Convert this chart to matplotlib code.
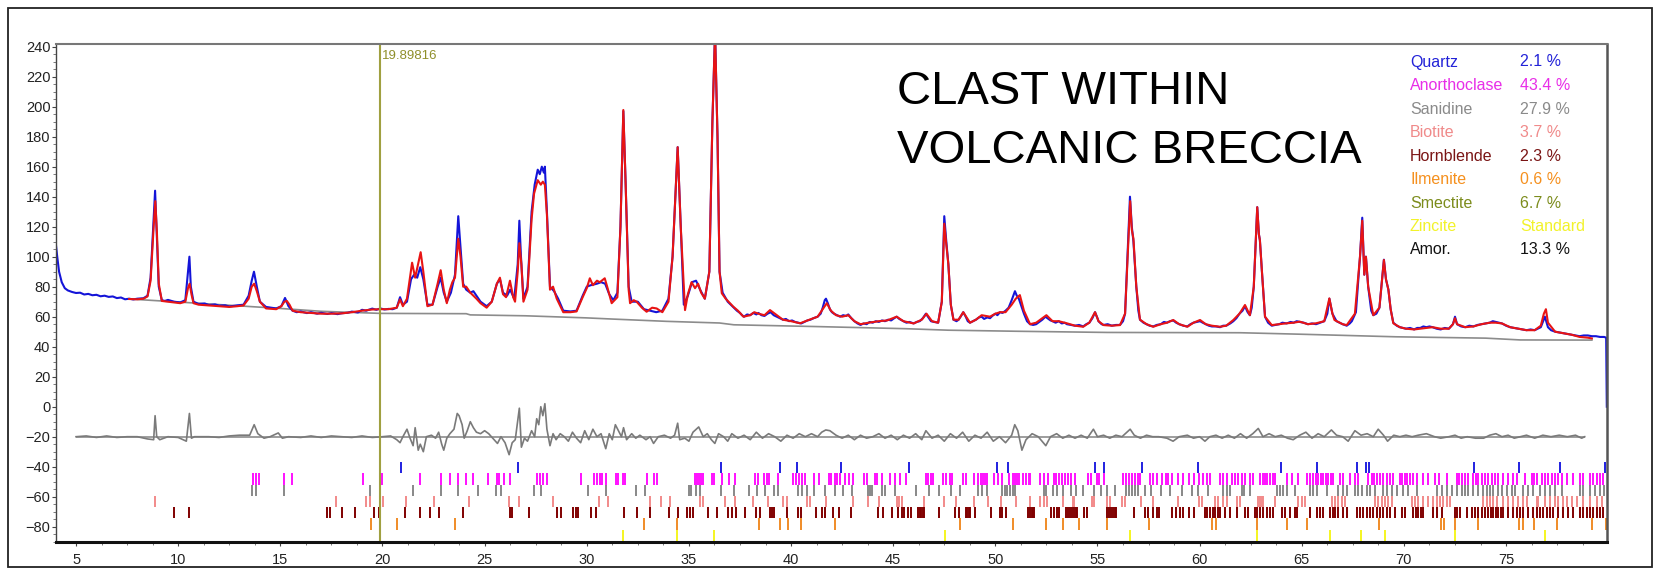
import matplotlib
matplotlib.use("Agg")
import matplotlib.pyplot as plt
from matplotlib.ticker import MultipleLocator
from matplotlib.patches import Rectangle

plt.rcParams['font.family'] = ['Liberation Sans', 'DejaVu Sans']

# observed pattern (2theta, counts)
obs_pts = [(4.0,110),(4.08,100),(4.17,90),(4.3,83),(4.45,79),(4.6,77.5),(4.8,76.5),(5.0,75.8),(5.2,76),(5.4,74.8),(5.6,75.2),(5.8,74.3),(6.0,74.6),(6.2,73.6),(6.4,74),(6.6,73.2),(6.8,73.5),(7.0,72.4),(7.2,72.8),(7.4,71.6),(7.6,72),(7.8,71.5),(8.0,72),(8.3,72.3),(8.5,74),(8.65,86),(8.8,126),(8.87,144),(8.95,115),(9.05,80),(9.2,71),(9.35,70.5),(9.5,71.2),(9.8,70),(10.1,69.5),(10.35,71),(10.48,90),(10.55,100),(10.62,80),(10.75,70),(11.0,68.5),(11.3,68.8),(11.5,67.8),(11.8,68.2),(12.0,67.4),(12.3,67.6),(12.5,66.8),(12.9,67.6),(13.2,68),(13.45,74),(13.6,84),(13.71,90),(13.85,80),(14.0,70),(14.3,66.5),(14.8,65.5),(15.05,67),(15.23,72.5),(15.4,67),(15.6,64),(15.8,63),(16.0,63.5),(16.3,62.4),(16.5,63),(16.8,62),(17.0,62.6),(17.3,61.8),(17.5,62.4),(17.8,61.7),(18.0,62.3),(18.3,62.6),(18.5,63.4),(18.8,62.8),(19.0,64.6),(19.2,64),(19.5,65.4),(19.7,64.6),(19.9,65.5),(20.1,64.8),(20.3,65.2),(20.5,65),(20.7,66),(20.86,73),(21.0,68),(21.2,70),(21.4,85),(21.55,88),(21.7,86),(21.85,93),(22.0,85),(22.2,68),(22.45,68),(22.7,80),(22.85,86),(23.0,76),(23.15,70),(23.35,76),(23.55,88),(23.71,127),(23.8,110),(23.95,82),(24.1,78),(24.3,76),(24.45,77),(24.6,74),(24.8,70),(25.1,67),(25.35,70),(25.6,82),(25.75,85),(25.9,76),(26.1,74),(26.25,78),(26.45,72),(26.62,95),(26.7,124),(26.78,100),(26.9,72),(27.1,80),(27.3,130),(27.45,148),(27.6,158),(27.7,155),(27.8,160),(27.9,156),(27.95,160),(28.05,130),(28.2,80),(28.4,77),(28.6,72),(28.85,64),(29.2,63.5),(29.5,64),(29.8,74),(30.0,80),(30.2,81),(30.5,82),(30.7,83),(30.9,82),(31.1,75),(31.3,71),(31.5,76),(31.65,120),(31.79,197),(31.9,150),(32.05,80),(32.2,70),(32.5,70),(32.8,65),(33.1,64),(33.4,63),(33.7,64),(34.0,72),(34.2,100),(34.45,173),(34.6,120),(34.75,68),(34.95,74),(35.15,83),(35.35,84),(35.55,78),(35.78,72),(36.0,90),(36.15,190),(36.28,250),(36.4,180),(36.5,90),(36.65,76),(36.9,70),
           (37.2,66),(37.35,64),(37.5,62.5),(37.6,61),(37.7,60),(37.85,61.5),(38.0,61),(38.15,62.5),(38.3,61.5),(38.4,62.5),(38.55,61),(38.7,60.5),(38.85,62),(39.0,63),(39.15,61),(39.3,60),(39.45,59),(39.6,58),(39.75,58.5),(39.9,57),(40.05,57.5),(40.2,56.5),(40.35,56),(40.5,55.5),(40.65,56.5),(40.8,57.5),(40.95,58),(41.1,59),(41.3,60),(41.45,62),(41.55,66),(41.65,71),(41.71,72),(41.8,69),(41.9,65),(42.0,63),(42.1,62),(42.25,61),(42.4,60),(42.55,61),(42.7,60.5),(42.8,61.5),(42.95,59),(43.1,57),(43.25,55.5),(43.4,54.5),(43.55,55.5),(43.7,55),(43.85,56.5),(44.0,56),(44.15,57),(44.3,56.5),(44.45,57.5),(44.6,57),(44.75,58),(44.9,57.5),(45.05,59),(45.17,60),(45.3,58.5),(45.5,57),(45.65,56),(45.8,56.5),(46.0,55.5),(46.15,56.5),(46.3,57),(46.45,59),(46.6,62),(46.7,60),(46.85,57),(47.0,56.5),(47.2,56),
           (47.38,70),(47.5,127),(47.6,110),(47.7,95),(47.82,68),(47.95,58),(48.1,57),(48.2,58),(48.3,60),(48.43,63),(48.55,60),(48.65,57),(48.76,56),(48.9,57),(49.05,58),(49.2,59.5),(49.33,60),(49.45,58.5),(49.6,59.5),(49.74,59),(49.85,60.5),(50.0,62),(50.1,61),(50.23,63),(50.35,62.5),(50.5,64),(50.65,66),(50.8,71),(50.96,77),(51.05,74),(51.15,72),(51.3,66),(51.4,62),(51.55,57),(51.7,55),(51.85,54.5),(52.0,55),(52.15,56.5),(52.3,58),(52.45,60),(52.55,59),(52.7,57.5),(52.8,57),(52.95,56),(53.1,57),(53.25,55.5),(53.4,56),(53.5,55),(53.7,54.5),(53.9,54),(54.1,54.5),(54.3,53.5),(54.45,55),(54.6,56),(54.75,59),(54.88,63),(55.0,59),(55.05,57),(55.2,55),(55.3,54.5),(55.5,55),(55.7,54),(55.9,54.5),(56.1,54.5),(56.25,57),(56.35,62),(56.5,110),(56.59,140),(56.68,120),(56.76,110),(56.9,80),(57.0,64),(57.08,58),(57.25,56),(57.4,55),(57.55,54),(57.73,53.5),(57.9,54.5),(58.1,55),(58.25,56.5),(58.4,56),(58.55,57),(58.71,57.5),(58.85,56),(59.0,55),(59.2,54),(59.4,53.5),(59.55,55),(59.7,56),(59.85,56.5),(60.02,57),(60.15,56),(60.3,55),(60.45,54),(60.6,53.5),(60.8,53.5),(61.0,53),(61.15,54),(61.3,54),(61.5,55.5),(61.65,57),(61.8,59),(61.95,62),(62.1,64),(62.22,67),(62.35,63),(62.46,61),(62.55,66),(62.65,80),(62.82,133),(62.9,115),(62.95,111),(63.05,90),(63.2,60),(63.35,56),(63.53,54),(63.7,54.5),(63.9,55),(64.05,56),(64.26,55.5),(64.45,56.5),(64.6,56),(64.75,57),(64.9,56.5),(65.1,56),(65.3,55),(65.5,55.5),(65.7,55),(65.9,56),(66.1,57),(66.25,62),(66.35,72),(66.5,62),(66.7,57),(66.85,56),(67.0,55),(67.2,54),(67.35,55.5),(67.45,57),(67.65,63),(67.85,100),(67.96,126),(68.06,88),(68.14,100),(68.25,80),(68.4,64),(68.5,61),(68.65,62),(68.8,66),(68.93,85),(69.02,98),(69.12,85),(69.24,78),(69.35,65),(69.48,56),(69.65,54),(69.8,53),(69.95,52.5),(70.1,52),(70.3,52.5),(70.5,51.5),(70.65,52.5),(70.8,52.5),(70.95,53.5),(71.1,53),(71.25,53.5),(71.4,53),(71.6,52),(71.8,51.5),(72.0,52.5),(72.2,52),(72.4,55),(72.5,60),(72.6,55),(72.8,53.5),(73.0,53),(73.2,54),(73.4,53.5),(73.6,54.5),(73.8,55),(74.0,55.5),(74.2,56),(74.35,57),(74.5,56.5),(74.65,56),(74.8,55.5),(75.0,54),(75.2,53),(75.4,52.5),(75.6,52),(75.8,51.5),(76.0,51),(76.2,51.5),(76.4,51),(76.55,52),(76.7,53),(76.9,60),(77.05,53),(77.2,51),(77.4,50),(77.6,49.5),(77.8,49),(78.0,48.5),(78.2,48),(78.4,47.5),(78.6,47),(78.8,47.5),(79.0,47.5),(79.2,47),(79.4,47),(79.6,46.5),(79.8,46.5),(79.9,46),(79.93,0)]

# calculated pattern
calc_pts = [(7.6,71.8),(8.0,71.6),(8.3,72),(8.5,73.5),(8.65,84),(8.8,120),(8.88,137),(8.96,116),(9.05,82),(9.2,70.5),(9.5,70),(9.8,69.5),(10.1,69),(10.35,70),(10.48,79),(10.56,82),(10.65,75),(10.75,69),(11.0,68),(11.5,67.5),(12.0,67),(12.5,66.5),(12.9,67),(13.2,67.5),(13.45,72),(13.6,80),(13.72,82),(13.85,77),(14.0,70),(14.3,65.5),(14.8,65),(15.05,67),(15.2,70),(15.32,70.5),(15.45,68),(15.6,64),(16.0,63),(16.5,62.5),(17.0,62),(17.5,62),(18.0,62.2),(18.5,63),(19.0,64),(19.5,64.8),(19.9,65),(20.3,65),(20.7,66),(20.86,71.5),(21.0,67),(21.2,72),(21.45,96),(21.6,86),(21.87,103),(22.0,90),(22.2,67),(22.45,68),(22.7,82),(22.85,91),(23.0,78),(23.15,69),(23.3,78),(23.42,83),(23.55,86),(23.71,112),(23.82,100),(23.95,80),(24.1,80),(24.3,76),(24.6,72),(24.8,69),(25.1,66),(25.35,70),(25.6,82),(25.75,86),(25.9,75),(26.05,73),(26.24,84),(26.4,73),(26.49,70),(26.62,90),(26.7,109),(26.8,95),(26.9,70),(27.1,78),(27.3,125),(27.42,142),(27.6,151),(27.75,148),(27.85,150),(27.95,148),(28.05,128),(28.2,78),(28.35,80),(28.53,72),(28.85,63),(29.2,63),(29.5,63.5),(29.8,73),(30.0,79),(30.15,85.6),(30.3,81),(30.5,84),(30.64,83),(30.88,85.6),(31.0,80),(31.22,69),(31.5,73),(31.65,120),(31.79,197.8),(31.9,150),(32.05,78),(32.12,69),(32.3,71),(32.44,70),(32.7,66),(32.93,63.3),(33.2,66),(33.42,65.5),(33.7,63),(34.0,70),(34.2,100),(34.45,173),(34.6,120),(34.81,64.4),(34.95,75),(35.13,83),(35.3,79),(35.45,82),(35.6,76),(35.78,72),(36.0,90),(36.15,190),(36.28,250),(36.4,180),(36.5,90),(36.61,75.6),(36.8,72),(37.17,66.7),(37.4,64),(37.67,60),(38.0,61),(38.2,63),(38.4,62),(38.7,61),(38.97,64.4),(39.3,61),(39.6,58),(40.0,57),(40.44,55.6),(40.9,58),(41.3,60),(41.55,65),(41.75,69),(41.95,64),(42.2,61),(42.5,60),(42.8,61),(43.1,57),(43.4,55),(43.8,56),(44.3,57),(44.7,57.5),(45.17,60),(45.5,57),(46.0,55.5),(46.4,58),(46.63,62),(46.9,57),(47.2,56),(47.38,70),(47.5,122),(47.6,108),(47.7,95),(47.82,68),(47.95,58),(48.2,58),(48.43,63),(48.76,56),(49.05,58),(49.33,61),(49.74,60),(50.0,62),(50.23,63),(50.5,63),(50.8,68),(51.0,72),(51.2,74.4),(51.4,64),(51.7,55),(52.0,56),(52.3,59),(52.5,61),(52.8,57),(53.1,57),(53.5,55.6),(53.9,54),(54.3,53.3),(54.6,56),(54.88,63),(55.05,57),(55.3,54.4),(55.7,54),(56.1,54.4),(56.35,62),(56.5,108),(56.6,137),(56.68,118),(56.76,112),(56.9,80),(57.08,58),(57.4,55),(57.73,53.3),(58.1,55),(58.4,56),(58.71,57.8),(59.0,55),(59.4,53.3),(59.7,56),(60.02,57.8),(60.3,55),(60.6,54),(61.0,53.3),(61.3,54),(61.65,57.8),(61.95,62),(62.22,67.8),(62.46,61),(62.65,80),(62.82,133),(62.9,115),(62.95,111),(63.05,90),(63.2,60),(63.53,54.4),(63.9,55),(64.26,55.6),(64.6,56),(64.9,56.7),(65.3,55),(65.7,55.6),(66.1,57),(66.35,72.2),(66.5,62),(66.6,57.8),(67.0,55),(67.2,54.4),(67.6,62),(67.85,100),(67.96,124),(68.06,88),(68.14,100),(68.25,80),(68.5,61),(68.8,66),(68.93,85),(69.02,97.8),(69.12,85),(69.24,78),(69.35,65),(69.48,55.6),(69.8,53),(70.1,52),(70.5,51.5),(70.8,52),(71.1,52.5),(71.4,53),(71.8,52),(72.2,52),(72.4,55),(72.5,59),(72.6,55),(73.0,53),(73.4,53.5),(73.8,55),(74.2,56),(74.5,56),(74.8,55.5),(75.2,53),(75.6,52),(76.0,51),(76.4,51),(76.7,54),(76.85,62),(76.95,65),(77.05,56),(77.4,50),(77.8,49),(78.2,48),(78.6,46.5),(79.0,46),(79.2,45.5)]

# background
bg_pts = [(7.6,71.8),(10,69.8),(13,67.2),(15,65.5),(17,63.6),(19.9,62.2),(24.1,62),(24.3,61.2),(27,60.6),(30,59.2),(31.3,58.4),(33.9,56.9),(36.5,55.8),(37.2,54.6),(41.3,53.4),(45.6,52),(47.7,51),(51,50.3),(55.5,49.5),(62,49.3),(64.7,48.4),(66.9,47.6),(69.6,46.6),(74,45.7),(75.7,44.5),(79.2,44.4)]

# difference curve (offset -20)
diff_pts = [(5.0,-20),(5.5,-19.5),(6,-20.5),(6.5,-19.5),(7,-20.5),(7.5,-20),(8,-20),(8.5,-21.5),(8.8,-22),(8.87,-6),(8.95,-20),(9.1,-22),(9.5,-20),(10.0,-20.5),(10.4,-23),(10.55,-4.5),(10.65,-21),(10.8,-20),(11.5,-20),(12,-20.5),(12.5,-19.5),(13,-19),(13.5,-19),(13.72,-12),(13.9,-18),(14.2,-21),(14.5,-20),(14.9,-17.5),(15.1,-21),(15.4,-20),(16,-20.5),(16.5,-19.5),(17,-20.5),(17.5,-19.5),(18,-20),(18.5,-20.5),(19,-19.5),(19.5,-20.5),(20,-20),(20.4,-19.5),(20.7,-22),(20.86,-24),(21.0,-20),(21.2,-15),(21.35,-21),(21.5,-26),(21.6,-14),(21.75,-29),(21.85,-25),(22.0,-30),(22.15,-20),(22.4,-19),(22.6,-21),(22.75,-17),(22.9,-25),(23.0,-29),(23.15,-21),(23.3,-18),(23.5,-15),(23.66,-4.5),(23.75,-6),(23.9,-12),(24.0,-21),(24.15,-16),(24.3,-10),(24.45,-14),(24.6,-17),(24.8,-18),(25.0,-16),(25.2,-18),(25.4,-21),(25.63,-24.5),(25.8,-20),(26.0,-24),(26.2,-32),(26.35,-24),(26.5,-22),(26.7,-1),(26.8,-27),(26.95,-21),(27.1,-23),(27.3,-16),(27.45,-20),(27.55,-8),(27.65,-12),(27.75,0),(27.85,-6),(27.95,2),(28.05,-15),(28.2,-26),(28.35,-18),(28.5,-22),(28.7,-18),(28.9,-20),(29.1,-23),(29.3,-17),(29.5,-21),(29.7,-24),(29.9,-16),(30.1,-22),(30.3,-15),(30.5,-20),(30.7,-18),(30.93,-28),(31.1,-18),(31.25,-22),(31.4,-12),(31.55,-16),(31.7,-20),(31.8,-14),(31.95,-22),(32.2,-18),(32.4,-21),(32.6,-19),(32.9,-22),(33.1,-20),(33.27,-24.5),(33.5,-20),(33.8,-19),(34.1,-21),(34.3,-19),(34.45,-11),(34.55,-22),(34.8,-21),(35.0,-23),(35.2,-17),(35.48,-13.5),(35.7,-20),(35.9,-18),(36.1,-22),(36.27,-24.5),(36.45,-18),(36.7,-20),(36.9,-23),(37.1,-18),(37.4,-21),(37.7,-19),(38.0,-22),(38.3,-17),(38.6,-21),(38.9,-18),(39.2,-20),(39.5,-23),(39.8,-19),(40.1,-21),(40.4,-18),(40.7,-20),(41.0,-18),(41.3,-20),(41.5,-17),(41.7,-15.5),(41.9,-16),(42.2,-19),(42.5,-21),(42.8,-19),(43.1,-22),(43.4,-19),(43.7,-21),(44.0,-20),(44.3,-18),(44.6,-21),(44.9,-19),(45.2,-22),(45.5,-19),(45.8,-21),(46.1,-18),(46.4,-22),(46.6,-16),(46.9,-21),(47.2,-19),(47.5,-23),(47.8,-18),(48.1,-21),(48.4,-17),(48.7,-23),(49.0,-19),(49.3,-21),(49.6,-17),(49.9,-23),(50.2,-20),(50.5,-24),(50.8,-19),(50.95,-12),(51.1,-16),(51.3,-29),(51.5,-22),(51.8,-18),(52.1,-20),(52.47,-26),(52.7,-20),(53.0,-18),(53.3,-21),(53.6,-19),(53.9,-21),(54.2,-19),(54.5,-21),(54.8,-15),(55.0,-20),(55.3,-19),(55.6,-21),(55.9,-19),(56.2,-20),(56.6,-15),(56.8,-19),(57.1,-21),(57.4,-19),(57.7,-20),(58.0,-20),(58.4,-21),(58.7,-23),(59.0,-20),(59.4,-19),(59.7,-21),(60.0,-20),(60.26,-23),(60.5,-20),(60.8,-19),(61.1,-21),(61.4,-19),(61.7,-21),(62.0,-18),(62.3,-21),(62.6,-18),(62.87,-14.5),(63.1,-20),(63.4,-18),(63.7,-20),(64.0,-19),(64.3,-21),(64.58,-22),(64.9,-19),(65.2,-17),(65.5,-21),(65.8,-18),(66.1,-20),(66.45,-15.5),(66.7,-19),(67.0,-20),(67.27,-23),(67.6,-16),(67.9,-19),(68.2,-18),(68.5,-20),(68.74,-15),(69.0,-19),(69.2,-23),(69.5,-19),(69.8,-20),(70.1,-19),(70.4,-20),(70.7,-19),(71.1,-18),(71.5,-20),(71.8,-21),(72.2,-20),(72.5,-19),(72.8,-21),(73.1,-20),(73.5,-21),(73.9,-21),(74.2,-19),(74.5,-18),(74.8,-20),(75.1,-19),(75.4,-21),(75.7,-20),(76.0,-19),(76.4,-21),(76.8,-19),(77.2,-20),(77.6,-19),(78.0,-20),(78.4,-19),(78.7,-21),(78.85,-20)]

# reflection positions per phase
quartz_pos = [20.89, 26.63, 36.55, 39.47, 40.28, 42.45, 45.78, 50.1, 50.6, 54.86, 55.32, 57.2, 59.93, 64.0, 65.75, 67.7, 68.12, 68.3, 73.45, 75.65, 77.65, 79.85]
anorth_pos = [13.68, 13.83, 13.94, 15.16, 15.57, 19.06, 19.97, 21.83, 22.86, 23.33, 23.7, 24.08, 24.45, 25.16, 25.59, 25.72, 25.97, 26.23, 27.56, 27.69, 27.84, 28.06, 29.7, 30.37, 30.5, 30.65,
              30.74, 30.93, 31.44, 31.55, 31.77, 31.87, 32.93, 33.27, 33.42, 35.29, 35.39, 35.48, 35.58, 35.67, 36.12, 36.23, 36.6, 36.98, 37.26, 38.24, 38.37, 38.67, 38.8, 38.93, 39.36,
              40.11, 40.24, 40.39, 40.54, 40.67, 41.14, 41.36, 41.85, 41.98, 42.13, 42.26, 42.41, 42.64, 42.82, 43.05, 43.57, 43.72, 44.1, 44.23, 44.47, 44.85, 45.07, 45.35, 45.63,
              46.61, 46.72, 46.85, 46.95, 47.45, 47.6, 47.79, 47.88, 48.41, 48.58, 48.97, 49.16, 49.29, 49.38, 49.47, 49.57, 49.94, 50.13, 50.32, 50.69, 50.84, 50.97, 51.07, 51.16,
              51.35, 51.48, 51.63, 51.72, 52.19, 52.38, 52.56, 52.85, 52.98, 53.13, 53.28, 53.41, 53.54, 53.69, 53.88, 54.53, 54.66, 54.96, 55.09, 55.34, 56.27, 56.4, 56.54, 56.69,
              56.84, 56.97, 57.1, 57.58, 57.72, 57.9, 58.18, 58.33, 58.46, 58.65, 58.93, 59.21, 59.5, 59.72, 59.96, 60.18, 60.34, 60.51, 61.0, 61.16, 61.36, 61.57, 61.73, 61.89,
              62.06, 62.22, 62.46, 62.63, 62.95, 63.08, 63.2, 63.31, 63.44, 63.57, 63.69, 64.26, 64.5, 64.83, 65.24, 65.4, 65.56, 65.7, 65.81, 65.92, 66.05, 66.18, 66.3, 66.41,
              66.54, 66.87, 67.03, 67.36, 67.6, 67.77, 68.26, 68.42, 68.53, 68.66, 68.83, 68.99, 69.15, 69.32, 69.48, 69.81, 69.92, 70.05, 70.17, 70.3, 70.43, 70.62, 70.95, 71.19,
              71.52, 71.73, 72.09, 72.58, 72.71, 72.83, 72.99, 73.15, 73.4, 73.53, 73.64, 73.8, 73.97, 74.13, 74.29, 74.46, 74.62, 74.86, 75.11, 75.35, 75.52, 75.93, 76.25, 76.37,
              76.5, 76.74, 76.9, 77.07, 77.23, 77.39, 77.56, 77.72, 77.96, 78.29, 78.62, 78.75, 79.11, 79.27, 79.43, 79.6, 79.76]
sanid_pos = [13.6, 13.79, 15.2, 19.41, 21.51, 22.86, 23.72, 24.69, 25.54, 25.78, 27.43, 27.75, 30.07, 30.93, 32.43, 32.86, 34.99, 35.1, 35.33, 35.52, 36.55, 37.2, 37.95, 38.33,
             38.74, 39.17, 39.36, 40.35, 40.54, 40.76, 41.1, 41.66, 42.17, 42.54, 42.97, 43.76, 43.85, 43.98, 44.47, 44.6, 45.07, 46.1, 46.76, 47.23, 47.83, 48.26, 49.15, 49.34,
             49.57, 50.32, 50.45, 50.59, 50.72, 50.85, 50.97, 52.38, 52.47, 52.84, 53.03, 53.31, 53.69, 53.97, 54.29, 54.81, 55.19, 55.47, 55.84, 56.4, 56.54, 56.69, 56.84, 56.96,
             57.34, 57.62, 58.09, 58.56, 59.12, 59.64, 59.9, 60.43, 61.16, 61.32, 61.49, 62.06, 62.17, 62.46, 63.77, 63.93, 64.1, 64.26, 64.67, 65.4, 65.56, 65.73, 66.22, 66.79,
             67.03, 67.2, 67.6, 67.77, 67.93, 68.18, 68.34, 68.58, 68.99, 69.15, 69.4, 69.64, 69.97, 70.21, 70.62, 71.6, 71.85, 72.09, 72.34, 72.58, 72.83, 72.99, 73.15, 73.4,
             73.64, 73.89, 74.05, 74.21, 74.38, 74.62, 74.78, 75.03, 75.27, 75.44, 75.84, 76.09, 76.33, 76.66, 76.9, 77.15, 77.39, 77.72, 78.62, 78.78, 79.11, 79.35, 79.6, 79.79]
biotite_pos = [8.87, 17.71, 19.17, 19.41, 20.05, 21.17, 22.54, 24.26, 26.19, 26.7, 28.35, 30.6, 31.02, 33.08, 33.61, 34.06, 35.56, 35.67, 36.79, 37.24, 38.14, 38.89, 39.6, 39.79,
               40.76, 40.91, 41.7, 43.01, 43.76, 44.32, 45.17, 45.3, 45.45, 46.53, 47.51, 48.07, 48.97, 49.66, 50.28, 51.03, 51.72, 52.19, 52.38, 52.53, 53.31, 53.78, 53.87, 54.72,
               54.85, 55.47, 55.6, 56.22, 56.35, 57.15, 57.72, 58.93, 59.96, 60.1, 60.75, 60.91, 61.16, 61.32, 61.81, 61.97, 62.87, 62.95, 63.04, 63.12, 63.69, 64.83, 64.99, 65.16,
               66.46, 66.63, 66.79, 66.95, 67.12, 68.58, 68.75, 68.91, 69.07, 69.24, 69.4, 70.38, 70.54, 70.7, 70.95, 71.19, 71.44, 71.6, 71.76, 71.93, 72.09, 72.25, 73.89, 74.05,
               74.21, 74.38, 74.54, 74.86, 75.11, 75.35, 75.6, 75.84, 76.01, 76.5, 76.58, 76.9, 77.15, 77.39, 77.56, 77.8, 77.96, 78.21, 78.45, 78.78, 79.11, 79.43, 79.68]
hornbl_pos = [9.8, 10.51, 17.3, 17.43, 18.01, 18.64, 19.6, 19.82, 19.9, 21.1, 21.83, 22.31, 22.78, 23.94, 26.23, 26.32, 27.18, 28.53, 28.76, 29.32, 29.47, 29.56, 30.22, 30.44,
              31.81, 32.48, 33.08, 34.02, 34.49, 34.92, 35.05, 35.18, 35.93, 36.36, 36.92, 37.11, 37.3, 37.73, 38.29, 38.48, 38.98, 39.08, 39.17, 39.79, 40.35, 40.48, 41.23, 41.51,
              41.66, 42.07, 42.36, 42.92, 44.28, 44.51, 44.92, 45.22, 45.41, 45.54, 45.73, 45.86, 46.2, 46.29, 46.38, 46.47, 46.53, 47.23, 48.03, 48.22, 48.54, 48.63, 48.72, 48.78,
              49.0, 49.79, 50.22, 50.35, 50.5, 51.59, 51.68, 51.77, 51.86, 51.91, 52.71, 52.85, 53.03, 53.12, 53.46, 53.56, 53.65, 53.74, 53.84, 53.93, 54.0, 54.34, 54.47, 55.47,
              55.56, 55.65, 55.75, 55.84, 55.93, 56.78, 57.34, 57.47, 57.72, 57.9, 58.03, 58.65, 58.84, 59.03, 59.21, 59.5, 59.72, 60.26, 60.38, 60.51, 60.64, 60.75, 60.88, 61.0,
              61.24, 61.49, 61.81, 62.22, 62.38, 62.71, 62.79, 62.95, 63.12, 63.28, 63.44, 63.61, 64.01, 64.18, 64.42, 64.67, 64.75, 65.4, 65.73, 65.89, 66.05, 66.38, 66.51, 66.64,
              66.79, 67.03, 67.2, 67.69, 67.85, 68.01, 68.18, 68.34, 68.5, 68.66, 68.83, 68.99, 69.15, 69.32, 69.56, 69.89, 70.05, 70.46, 70.57, 70.7, 70.82, 70.95, 71.44, 71.6,
              71.85, 72.5, 72.61, 72.74, 73.07, 73.31, 73.48, 73.64, 73.8, 73.97, 74.13, 74.25, 74.38, 74.49, 74.62, 74.73, 74.86, 75.11, 75.35, 75.52, 75.68, 75.84, 76.09, 76.33,
              76.5, 76.66, 76.82, 76.99, 77.15, 77.31, 77.56, 77.8, 78.05, 78.29, 78.62, 78.78, 78.94, 79.11, 79.27, 79.43, 79.6, 79.76]
ilmen_pos = [19.42, 20.69, 23.55, 32.8, 34.4, 38.43, 39.46, 39.83, 40.5, 42.15, 48.27, 50.85, 52.48, 53.33, 54.11, 55.45, 57.54, 60.6, 60.8, 62.79, 64.29, 65.24, 68.8, 71.8,
             71.96, 72.51, 73.62, 75.62, 75.84, 76.37, 77.47, 79.19, 79.88]
zinc_pos = [31.79, 34.42, 36.24, 47.54, 56.58, 62.82, 66.36, 67.92, 69.05, 72.52, 76.9]

phases = ['Quartz', 'Anorthoclase', 'Sanidine', 'Biotite', 'Hornblende', 'Ilmenite', 'Smectite', 'Zincite', 'Amor.']
amounts = ['2.1 %', '43.4 %', '27.9 %', '3.7 %', '2.3 %', '0.6 %', '6.7 %', 'Standard', '13.3 %']
phase_colors = ['#2323d8', '#e82ee8', '#8a8a8a', '#f08a8a', '#7a1414', '#f5901e', '#7c8c1c', '#f2f22a', '#111111']

cursor_x = 19.89816

fig = plt.figure(figsize=(16.55, 5.75), dpi=100)
ax = fig.add_axes([0.03384, 0.0579, 0.9374, 0.8651])

ox, oy = zip(*obs_pts)
cx, cy = zip(*calc_pts)
bx, by = zip(*bg_pts)
dx, dy = zip(*diff_pts)

ax.plot(bx, by, color='#8c8c8c', lw=1.2)
ax.plot(ox, oy, color='#1414d8', lw=1.5)
ax.plot(cx, cy, color='#e81414', lw=1.5)
ax.hlines(-20, 5.0, 78.85, color='#8c8c8c', lw=1.2)
ax.plot(dx, dy, color='#7a7a7a', lw=1.2)

# reflection markers, one row per phase
rows = [(quartz_pos, '#2020e0'), (anorth_pos, '#ff10ff'), (sanid_pos, '#888888'),
        (biotite_pos, '#f28a8a'), (hornbl_pos, '#800000'), (ilmen_pos, '#f08c28'),
        (zinc_pos, '#f5f520')]
top = -37.0
for pos, col in rows:
    ax.vlines(pos, top - 7.5, top, colors=col, lw=1.4)
    top -= 7.5

ax.axvline(cursor_x, color='#a0a040', lw=1.5)
ax.text(cursor_x + 0.08, 234, '19.89816', color='#8f8f2a', fontsize=9.5, va='center', ha='left')

ax.set_xlim(4.02, 79.96)
ax.set_ylim(-90, 241.6)
ax.xaxis.set_minor_locator(MultipleLocator(1.25))
ax.yaxis.set_minor_locator(MultipleLocator(5))
ax.set_xticks(range(5, 80, 5))
ax.set_yticks(range(-80, 241, 20))
ax.tick_params(axis='both', which='major', labelsize=10.5, length=3, width=0.8, colors='#444444', labelcolor='#222222')
ax.tick_params(axis='both', which='minor', length=2, width=0.6, colors='#666666')
ax.tick_params(axis='y', pad=1)
ax.tick_params(axis='x', pad=5)

ax.spines['top'].set_color('#777777')
ax.spines['right'].set_color('#555555')
ax.spines['top'].set_linewidth(1.5)
ax.spines['right'].set_linewidth(1.8)
ax.spines['left'].set_color('#444444')
ax.spines['left'].set_linewidth(1.0)
ax.spines['bottom'].set_color('#111111')
ax.spines['bottom'].set_linewidth(2.2)

# sample title
fig.text(897 / 1655, 1 - 104 / 575, 'CLAST WITHIN', fontsize=34, va='baseline', ha='left')
fig.text(897 / 1655, 1 - 163 / 575, 'VOLCANIC BRECCIA', fontsize=34, va='baseline', ha='left')

# phase legend
for i, (name, amt, col) in enumerate(zip(phases, amounts, phase_colors)):
    yy = 1 - (62 + i * 23.5) / 575
    fig.text(1410 / 1655, yy, name, color=col, fontsize=11.5, va='center', ha='left')
    fig.text(1520 / 1655, yy, amt, color=col, fontsize=11.5, va='center', ha='left')

fig.patches.append(Rectangle((8 / 1655, 8 / 575), 1644 / 1655, 559 / 575, transform=fig.transFigure,
                             fill=False, edgecolor='#222222', lw=1.3))

fig.savefig('out.png', dpi=100)
